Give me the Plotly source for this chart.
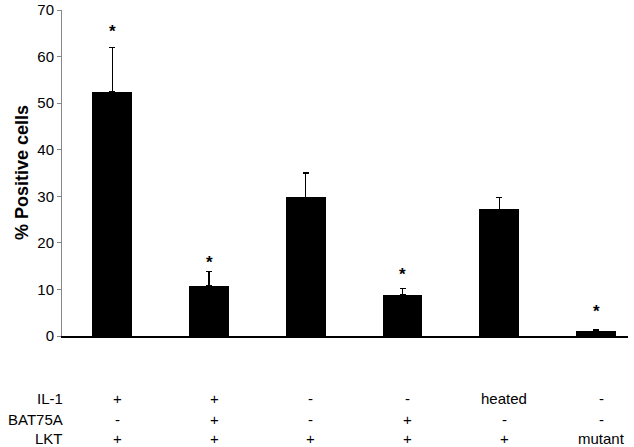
import plotly.graph_objects as go

# Data
conditions = ["A", "B", "C", "D", "E", "F"]
values = [52.5, 10.8, 29.8, 8.9, 27.2, 1.0]
errors_up = [9.4, 3.1, 5.2, 1.3, 2.5, 0.3]
significant = [True, True, False, True, False, True]
star_y = [66.3, 16.6, None, 14.0, None, 6.2]
row_labels = ["IL-1", "BAT75A", "LKT"]
il1 = ["+", "+", "-", "-", "heated", "-"]
bat75a = ["-", "+", "-", "+", "-", "-"]
lkt = ["+", "+", "+", "+", "+", "mutant"]
y_ticks = [0, 10, 20, 30, 40, 50, 60, 70]

FONT = "Arial, Liberation Sans, Helvetica, sans-serif"
xpos = list(range(len(conditions)))

fig = go.Figure()
fig.add_trace(go.Bar(
    x=xpos, y=values, width=0.41,
    marker=dict(color="black", line=dict(width=0)),
    error_y=dict(type="data", symmetric=False, array=errors_up,
                 arrayminus=[0] * len(values), color="black",
                 thickness=1.3, width=3),
    showlegend=False,
))

annotations = []
for i, (sig, sy) in enumerate(zip(significant, star_y)):
    if sig:
        annotations.append(dict(x=xpos[i], y=sy, xref="x", yref="y", text="<b>*</b>",
                                showarrow=False, font=dict(family=FONT, size=17, color="black"),
                                yanchor="middle", yshift=-4))

row_y = [-0.193, -0.255, -0.313]
for r, (lab, row) in enumerate(zip(row_labels, [il1, bat75a, lkt])):
    annotations.append(dict(x=0, y=row_y[r], xref="paper", yref="paper", text=lab,
                            showarrow=False, xanchor="right", yanchor="middle", xshift=3,
                            font=dict(family=FONT, size=15, color="black")))
    for i, t in enumerate(row):
        annotations.append(dict(x=xpos[i], y=row_y[r], xref="x", yref="paper", text=t,
                                showarrow=False, xanchor="center", yanchor="middle", xshift=5,
                                font=dict(family=FONT, size=15, color="black")))

annotations.append(dict(x=0, y=0.5, xref="paper", yref="paper", text="<b>% Positive cells</b>",
                        showarrow=False, textangle=-90, xanchor="center", yanchor="middle",
                        xshift=-40, font=dict(family=FONT, size=18, color="black")))

fig.update_layout(
    width=634, height=447,
    margin=dict(l=62, r=6, t=10, b=111),
    plot_bgcolor="white", paper_bgcolor="white",
    annotations=annotations,
    xaxis=dict(range=[-0.52, 5.33], showticklabels=False, ticks="", showgrid=False,
               zeroline=False, showline=True, linecolor="black", linewidth=1.5,
               automargin=False),
    yaxis=dict(range=[0, 70], tickvals=y_ticks, ticks="outside", ticklen=4,
               tickcolor="#888", showgrid=False, zeroline=False, showline=True,
               linecolor="#888", linewidth=1, automargin=False,
               tickfont=dict(family=FONT, size=15, color="black")),
    bargap=0,
)

fig.write_html("out.html", config={"displayModeBar": False},
               post_script="document.body.style.margin='0';document.body.style.overflow='hidden';")
